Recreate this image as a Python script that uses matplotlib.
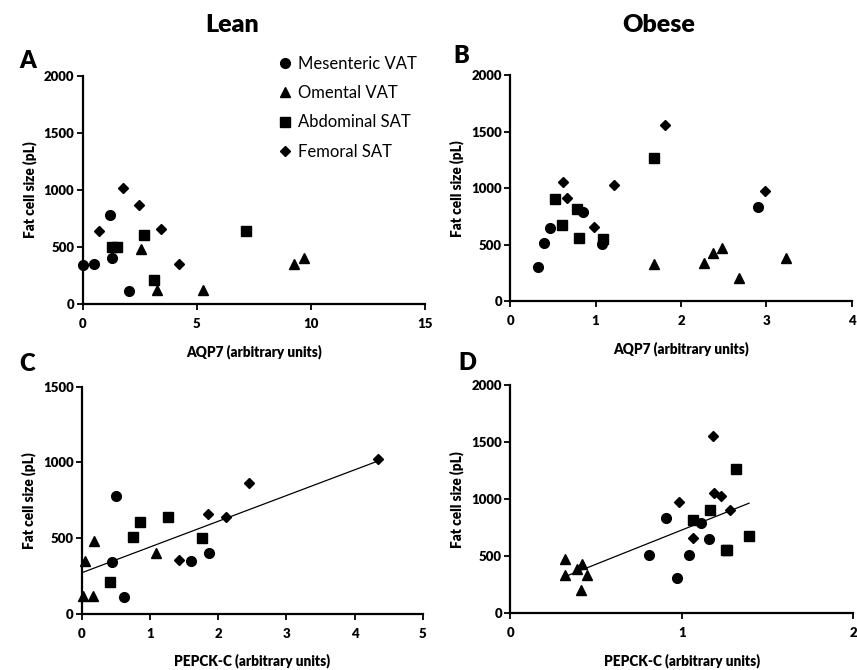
import numpy as np
import matplotlib
matplotlib.use("Agg")
import matplotlib.pyplot as plt
from matplotlib.lines import Line2D

plt.rcParams['font.family'] = ['Lato', 'DejaVu Sans']

depots = ["Mesenteric VAT", "Omental VAT", "Abdominal SAT", "Femoral SAT"]

# ---- Lean subjects (panels A and C) ----
lean_mes_size = [340, 350, 782, 403, 112]
lean_mes_aqp7 = [0.0, 0.51, 1.20, 1.27, 2.04]
lean_mes_pepck = [0.44, 1.60, 0.50, 1.87, 0.61]

lean_om_size = [485, 122, 122, 352, 405]
lean_om_aqp7 = [2.57, 3.24, 5.28, 9.28, 9.70]
lean_om_pepck = [0.18, 0.02, 0.16, 0.04, 1.09]

lean_abd_size = [505, 502, 606, 213, 640]
lean_abd_aqp7 = [1.28, 1.52, 2.67, 3.12, 7.14]
lean_abd_pepck = [0.75, 1.76, 0.85, 0.41, 1.26]

lean_fem_size = [640, 1020, 865, 658, 356]
lean_fem_aqp7 = [0.70, 1.75, 2.45, 3.45, 4.22]
lean_fem_pepck = [2.11, 4.34, 2.45, 1.85, 1.42]

# ---- Obese subjects (panels B and D) ----
ob_mes_size = [306, 515, 651, 792, 507, 837]
ob_mes_aqp7 = [0.32, 0.40, 0.46, 0.85, 1.08, 2.90]
ob_mes_pepck = [0.97, 1.04, 1.16, 1.11, 0.81, 0.91]

ob_om_size = [334, 336, 431, 475, 204, 387]
ob_om_aqp7 = [1.68, 2.27, 2.38, 2.48, 2.68, 3.23]
ob_om_pepck = [0.32, 0.45, 0.42, 0.32, 0.41, 0.39]

ob_abd_size = [905, 676, 818, 557, 554, 1267]
ob_abd_aqp7 = [0.52, 0.61, 0.78, 0.80, 1.09, 1.68]
ob_abd_pepck = [1.164, 1.392, 1.067, 1.26, 1.261, 1.316]

ob_fem_size = [1050, 909, 658, 1028, 1557, 977]
ob_fem_aqp7 = [0.62, 0.67, 0.98, 1.21, 1.81, 2.99]
ob_fem_pepck = [1.19, 1.281, 1.067, 1.228, 1.18, 0.982]

markers = {"Mesenteric VAT": ("o", 7.0), "Omental VAT": ("^", 7.5),
           "Abdominal SAT": ("s", 6.8), "Femoral SAT": ("D", 5.6)}

W, H = 857, 670
fig = plt.figure(figsize=(W / 100, H / 100), dpi=100)


def add_axes(l, r, t, b):
    return fig.add_axes([l / W, 1 - b / H, (r - l) / W, (b - t) / H])


def style(ax, xlim, xticks, ylim, yticks, xlabel):
    ax.set_xlim(*xlim)
    ax.set_ylim(*ylim)
    ax.set_xticks(xticks)
    ax.set_yticks(yticks)
    for s in ["top", "right"]:
        ax.spines[s].set_visible(False)
    for s in ["left", "bottom"]:
        ax.spines[s].set_linewidth(1.6)
    ax.tick_params(direction="out", length=4, width=1.3, labelsize=9.5, pad=2)
    for lab in ax.get_xticklabels() + ax.get_yticklabels():
        lab.set_fontweight("heavy")
    ax.tick_params(axis="x", pad=6)
    ax.set_ylabel("Fat cell size (pL)", fontsize=9.8, fontweight="heavy", labelpad=5)
    ax.set_xlabel(xlabel, fontsize=9.8, fontweight="heavy", labelpad=10)
    ax.patch.set_alpha(0)


def scatter(ax, groups):
    for name, xs, ys in groups:
        m, ms = markers[name]
        ax.plot(xs, ys, linestyle="none", marker=m, markersize=ms, color="black",
                clip_on=False, zorder=3)


def fit_line(ax, groups):
    xs = np.concatenate([np.asarray(g[1], float) for g in groups])
    ys = np.concatenate([np.asarray(g[2], float) for g in groups])
    k, c = np.polyfit(xs, ys, 1)
    xx = np.array([xs.min(), xs.max()])
    ax.plot(xx, k * xx + c, color="black", linewidth=0.9, zorder=2)


axA = add_axes(82.7, 425, 75.7, 304.3)
axB = add_axes(510.3, 851.7, 75, 301.3)
axC = add_axes(82, 422.7, 386.7, 614)
axD = add_axes(510.3, 853.3, 385, 613.3)

gA = [("Mesenteric VAT", lean_mes_aqp7, lean_mes_size),
      ("Omental VAT", lean_om_aqp7, lean_om_size),
      ("Abdominal SAT", lean_abd_aqp7, lean_abd_size),
      ("Femoral SAT", lean_fem_aqp7, lean_fem_size)]
gB = [("Mesenteric VAT", ob_mes_aqp7, ob_mes_size),
      ("Omental VAT", ob_om_aqp7, ob_om_size),
      ("Abdominal SAT", ob_abd_aqp7, ob_abd_size),
      ("Femoral SAT", ob_fem_aqp7, ob_fem_size)]
gC = [("Mesenteric VAT", lean_mes_pepck, lean_mes_size),
      ("Omental VAT", lean_om_pepck, lean_om_size),
      ("Abdominal SAT", lean_abd_pepck, lean_abd_size),
      ("Femoral SAT", lean_fem_pepck, lean_fem_size)]
gD = [("Mesenteric VAT", ob_mes_pepck, ob_mes_size),
      ("Omental VAT", ob_om_pepck, ob_om_size),
      ("Abdominal SAT", ob_abd_pepck, ob_abd_size),
      ("Femoral SAT", ob_fem_pepck, ob_fem_size)]

style(axA, (0, 15), [0, 5, 10, 15], (0, 2000), [0, 500, 1000, 1500, 2000], "AQP7 (arbitrary units)")
style(axB, (0, 4), [0, 1, 2, 3, 4], (0, 2000), [0, 500, 1000, 1500, 2000], "AQP7 (arbitrary units)")
style(axC, (0, 5), [0, 1, 2, 3, 4, 5], (0, 1500), [0, 500, 1000, 1500], "PEPCK-C (arbitrary units)")
style(axD, (0, 2), [0, 1, 2], (0, 2000), [0, 500, 1000, 1500, 2000], "PEPCK-C (arbitrary units)")

scatter(axA, gA)
scatter(axB, gB)
scatter(axC, gC)
scatter(axD, gD)
fit_line(axC, gC)
fit_line(axD, gD)

handles = [Line2D([], [], linestyle="none", marker=markers[d][0], markersize=markers[d][1],
                  color="black") for d in depots]
fig.legend(handles, depots, loc="upper left", bbox_to_anchor=(270 / W, 1 - 49 / H),
           frameon=False, fontsize=12, handletextpad=0.25, labelspacing=0.8,
           handlelength=1.0, borderaxespad=0)

fig.text(232 / W, 1 - 25 / H, "Lean", fontsize=18, fontweight="heavy", ha="center", va="center")
fig.text(659 / W, 1 - 25 / H, "Obese", fontsize=18, fontweight="heavy", ha="center", va="center")
for lab, x, y in [("A", 28, 61), ("B", 461, 56), ("C", 27, 364), ("D", 467, 363)]:
    fig.text(x / W, 1 - y / H, lab, fontsize=17, fontweight="heavy", ha="center", va="center")

fig.savefig("out.png", dpi=100)
